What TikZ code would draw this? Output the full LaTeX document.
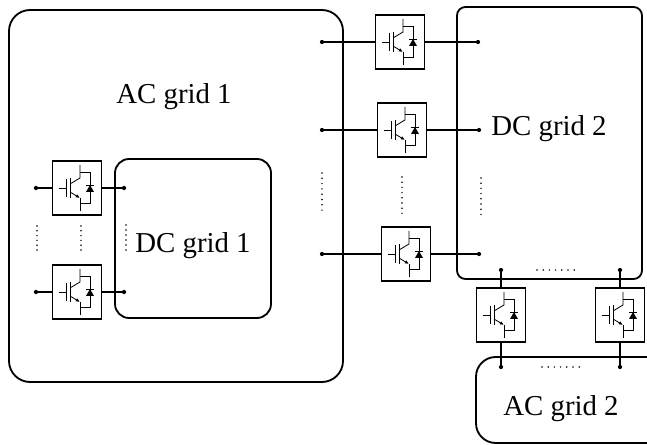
\documentclass[tikz,border=0pt]{standalone}
\usepackage{fontspec}
\setmainfont{Liberation Serif}
\usetikzlibrary{arrows.meta}

\tikzset{
  grid/.style={line width=1.3pt, rounded corners=#1},
  conv/.style={draw, line width=0.9pt, minimum width=1.225cm,
    minimum height=1.35cm, inner sep=0pt},
  jdot/.style={circle, fill, inner sep=0pt, minimum size=3pt},
  link/.style={line width=0.8pt},
  gridname/.style={font=\fontsize{20.5}{24}\selectfont},
  % IGBT with anti-parallel diode
  igbt/.pic={
    \begin{scope}[line width=0.6pt]
      \draw (-18,0) -- (-11,0);
      \draw (-11,-9) -- (-11,9);
      \draw (-7,-10) -- (-7,10);
      \draw (-7,-4) -- (3,-10) -- (3,-23);
      \draw[-{Latex[length=3pt,width=2.5pt]}] (-7,4) -- (3,10);
      \draw (3,10) -- (3,23);
      \draw (3,-16) -- (13,-16) -- (13,15) -- (3,15);
      \fill (9,4) -- (17,4) -- (13,-3) -- cycle;
      \draw (9,-3) -- (17,-3);
    \end{scope}
  }
}

\begin{document}
\begin{tikzpicture}[x=0.025cm, y=-0.025cm]
  \useasboundingbox (0,0) rectangle (647,445);

  % grids
  \draw[grid=15pt] (9,10) rectangle (343,382);
  \draw[grid=6pt] (457,7) rectangle (642,279);
  \draw[grid=10pt] (115,159) rectangle (271,318);
  \draw[grid=14pt] (476,357) rectangle (670,443);
  \node[gridname] (acone) at (174,97) {AC grid 1};
  \node[gridname] (dctwo) at (549,129) {DC grid 2};
  \node[gridname] (dcone) at (193,246) {DC grid 1};
  \node[gridname] (actwo) at (561,409) {AC grid 2};

  % converters
  \node[conv] (tone) at (400,42) {};
  \node[conv] (ttwo) at (402,130) {};
  \node[conv] (tthree) at (406,254) {};
  \node[conv] (lone) at (77,188) {};
  \node[conv] (ltwo) at (77,292) {};
  \node[conv] (bone) at (501,315) {};
  \node[conv] (btwo) at (620,315) {};
  \foreach \c in {tone,ttwo,tthree,lone,ltwo,bone,btwo}
    \pic at (\c) {igbt};

  % connection points
  \node[jdot] (tonea) at (322,42) {};
  \node[jdot] (toneb) at (478,42) {};
  \node[jdot] (ttwoa) at (322,130) {};
  \node[jdot] (ttwob) at (479,130) {};
  \node[jdot] (tthreea) at (322,254) {};
  \node[jdot] (tthreeb) at (479,254) {};
  \node[jdot] (lonea) at (36,188) {};
  \node[jdot] (loneb) at (124,188) {};
  \node[jdot] (ltwoa) at (36,292) {};
  \node[jdot] (ltwob) at (124,292) {};
  \node[jdot] (bonea) at (501,270) {};
  \node[jdot] (boneb) at (501,367) {};
  \node[jdot] (btwoa) at (620,270) {};
  \node[jdot] (btwob) at (620,367) {};

  \foreach \c in {tone,ttwo,tthree,lone,ltwo} {
    \draw[link] (\c a) -- (\c.west);
    \draw[link] (\c.east) -- (\c b);
  }
  \foreach \c in {bone,btwo} {
    \draw[link] (\c a) -- (\c.north);
    \draw[link] (\c.south) -- (\c b);
  }

  % dots
  \foreach \x/\y/\dx/\dy/\n in {37/226/0/4.8/5, 81/226/0/4.8/5,
      126/225/0/5/5, 322/173/0/5.3/7, 402/177/0/5.2/7, 481/178/0/5.2/7,
      537/270/6.2/0/6, 542/367/6.2/0/6} {
    \foreach \k in {0,...,\n}
      \fill ({\x+\k*\dx},{\y+\k*\dy}) circle (0.6pt);
  }
\end{tikzpicture}
\end{document}
